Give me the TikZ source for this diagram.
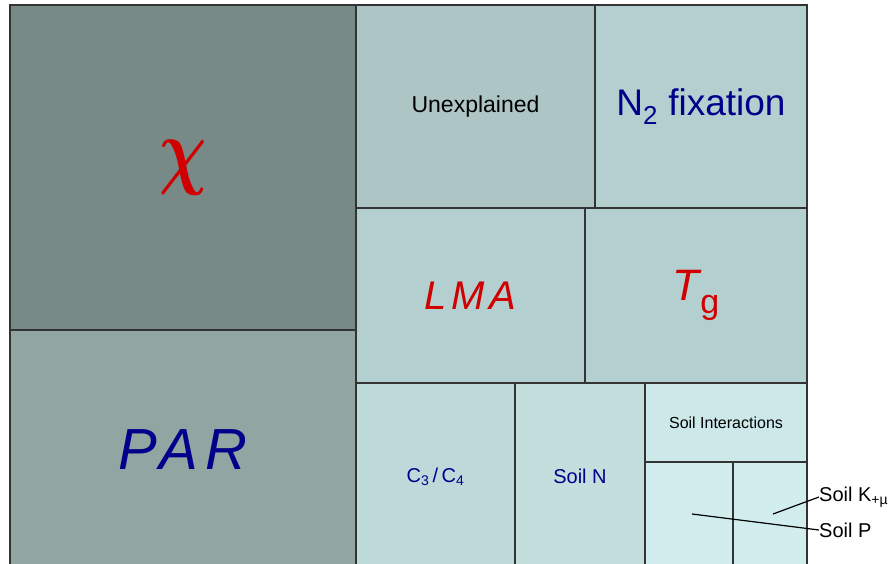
\documentclass[tikz,border=0pt]{standalone}
\usepackage{fontspec}
\setmainfont{Liberation Sans}
\definecolor{cchi}{HTML}{788A88}
\definecolor{cpar}{HTML}{91A5A3}
\definecolor{cunex}{HTML}{ADC5C5}
\definecolor{cmid}{HTML}{B4CFCF}
\definecolor{cc3}{HTML}{BED9D9}
\definecolor{csn}{HTML}{C4DEDE}
\definecolor{csi}{HTML}{CDE8E8}
\definecolor{clow}{HTML}{D2EDED}
\definecolor{tred}{HTML}{D00000}
\definecolor{tblue}{HTML}{00008B}
\definecolor{edge}{HTML}{333333}
\begin{document}
\begin{tikzpicture}[x=1pt,y=-1pt,
  cell/.style={draw=edge, line width=1.2pt, inner sep=0pt, outer sep=0pt, anchor=north west, align=center},
  lab/.style={inner sep=0pt, anchor=west, font=\fontsize{20}{22}\selectfont},
  lead/.style={draw=black, line width=1.2pt}]
\useasboundingbox (0,0) rectangle (889,564);
\clip (0,0) rectangle (889,564);
\node[cell, fill=cchi, minimum width=346pt, minimum height=325pt] (chi) at (10,5)
  {\textcolor{tred}{\raisebox{-2pt}{\scalebox{6.6}[8.6]{\boldmath$\chi$}}}};
\node[cell, fill=cpar, minimum width=346pt, minimum height=240pt] (par) at (10,330)
  {\textcolor{tblue}{\fontsize{58}{60}\selectfont\itshape\addfontfeature{LetterSpace=12}PAR}};
\node[cell, fill=cunex, minimum width=239pt, minimum height=203pt] (unex) at (356,5)
  {\fontsize{23}{25}\selectfont Unexplained};
\node[cell, fill=cmid, minimum width=212pt, minimum height=203pt] (n2) at (595,5)
  {\textcolor{tblue}{\raisebox{-2pt}{\fontsize{37}{40}\selectfont N\textsubscript{2} fixation}}};
\node[cell, fill=cmid, minimum width=229pt, minimum height=175pt] (lma) at (356,208)
  {\textcolor{tred}{\fontsize{40}{42}\selectfont\itshape\addfontfeature{LetterSpace=12}LMA}};
\node[cell, fill=cmid, minimum width=222pt, minimum height=175pt] (tg) at (585,208)
  {\textcolor{tred}{\fontsize{44}{46}\selectfont{\itshape T}\kern1pt\raisebox{-0.3em}{\fontsize{34}{36}\selectfont g}}};
\node[cell, fill=cc3, minimum width=159pt, minimum height=187pt] (c3) at (356,383)
  {\textcolor{tblue}{\fontsize{20}{22}\selectfont C\textsubscript{3}\,/\,C\textsubscript{4}}};
\node[cell, fill=csn, minimum width=130pt, minimum height=187pt] (soiln) at (515,383)
  {\textcolor{tblue}{\fontsize{20}{22}\selectfont Soil N}};
\node[cell, fill=csi, minimum width=162pt, minimum height=79pt] (soilint) at (645,383)
  {\fontsize{16}{18}\selectfont Soil Interactions};
\node[cell, fill=clow, minimum width=88pt, minimum height=108pt] (soilp) at (645,462) {};
\node[cell, fill=clow, minimum width=74pt, minimum height=108pt] (soilk) at (733,462) {};
\node[lab] (klab) at (819,497) {Soil K\textsubscript{+\textmu}};
\node[lab] (plab) at (819,530) {Soil P};
\coordinate (kin) at (773,514);
\coordinate (pin) at (692,514);
\draw[lead] (kin) -- (klab.west);
\draw[lead] (pin) -- (plab.west);
\end{tikzpicture}
\end{document}
